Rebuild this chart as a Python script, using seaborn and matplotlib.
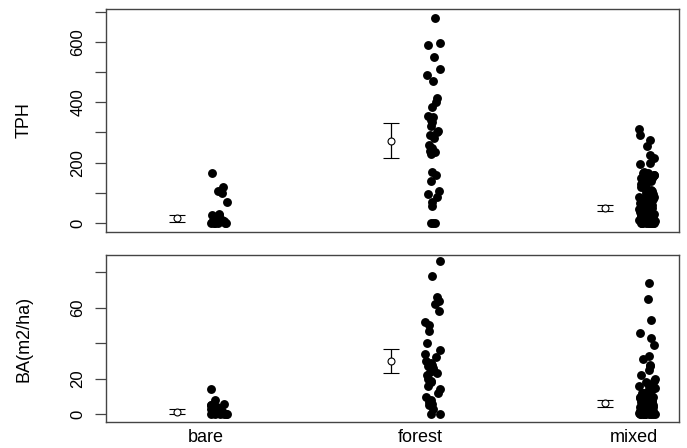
import numpy as np
import pandas as pd
import matplotlib
matplotlib.use("Agg")
import matplotlib.pyplot as plt
import seaborn as sns

# categories
sites = ["bare", "forest", "mixed"]

# trees per hectare, per plot
tph_bare = [165, 120, 105, 100, 70, 30, 28, 25, 20, 15, 10, 8, 5, 3, 0, 0, 0, 0, 0, 0]
tph_forest = [680, 595, 590, 550, 510, 490, 470, 415, 400, 385, 355, 350, 340, 335,
              320, 305, 300, 290, 280, 260, 250, 240, 235, 230, 170, 160, 140, 105,
              95, 85, 70, 55, 0, 0, 0]
tph_mixed = [310, 290, 275, 255, 225, 215, 200, 195, 170, 165, 165, 160, 160, 155,
             155, 150, 150, 145, 140, 140, 135, 130, 130, 125, 120, 120, 115, 110,
             110, 105, 100, 100, 95, 95, 90, 90, 85, 85, 80, 80, 75, 75, 70, 70, 65,
             65, 60, 60, 55, 55, 50, 50, 45, 45, 40, 40, 35, 35, 30, 30, 30, 25, 25,
             25, 20, 20, 20, 15, 15, 15, 10, 10, 10, 5, 5, 5, 5, 0, 0, 0, 0, 0, 0,
             0, 0, 0, 0]

# basal area (m2/ha), per plot
ba_bare = [14, 8, 6, 5, 5, 4, 4, 3, 3, 2, 2, 1, 1, 1, 0, 0, 0, 0, 0, 0]
ba_forest = [86, 78, 66, 64, 62, 58, 52, 50, 47, 40, 36, 34, 32, 30, 29, 28, 27, 26,
             25, 24, 23, 22, 20, 19, 18, 16, 14, 12, 10, 8, 7, 6, 5, 3, 0, 0]
ba_mixed = [74, 65, 53, 46, 43, 39, 33, 31, 28, 27, 25, 22, 20, 19, 18, 17, 16, 15,
            14, 14, 13, 12, 12, 11, 10, 10, 10, 9, 9, 9, 8, 8, 8, 7, 7, 7, 6, 6, 6,
            5, 5, 5, 5, 4, 4, 4, 4, 3, 3, 3, 3, 2, 2, 2, 2, 1, 1, 1, 1, 1, 0, 0, 0,
            0, 0, 0, 0, 0, 0, 0]

# group means and error bar half widths
tph_mean = [15, 273, 49]
tph_err = [11, 58, 11]
ba_mean = [1.5, 30, 6.2]
ba_err = [1.4, 7, 1.9]


def make_df(groups):
    rows = []
    for i, vals in enumerate(groups):
        for v in vals:
            rows.append({"site": sites[i], "pos": i + 1 + 0.06, "value": v})
    return pd.DataFrame(rows)


def draw_panel(ax, df, means, errs, ylabel, yticks, ylabels, ylim):
    sns.stripplot(data=df, x="pos", y="value", native_scale=True, orient="x",
                  jitter=0.038, color="black", size=6.4, linewidth=0, ax=ax)
    xpos = np.arange(1, len(sites) + 1) - 0.135
    ax.errorbar(xpos, means, yerr=errs, fmt="o", mfc="white", mec="black",
                color="black", ecolor="black", capsize=5.5, elinewidth=0.9,
                capthick=0.9, ms=5, mew=0.8)
    ax.set_xlim(0.533, 3.21)
    ax.set_ylim(*ylim)
    ax.set_yticks(yticks)
    ax.set_yticklabels(ylabels, rotation=90, va="center", fontsize=12,
                       color="black")
    ax.set_ylabel(ylabel, fontsize=13, color="black")
    ax.yaxis.set_label_coords(-0.128, 0.5)
    ax.tick_params(axis="y", left=True, length=8, width=0.9, color="#444444",
                   pad=7, direction="out")
    for s in ax.spines.values():
        s.set_visible(True)
        s.set_color("#444444")
        s.set_linewidth(1.0)


def main():
    sns.set_theme(style="white")
    plt.rcParams["font.family"] = ["Liberation Sans", "DejaVu Sans"]
    np.random.seed(7)

    fig = plt.figure(figsize=(6.87, 4.48), dpi=100)
    ax1 = fig.add_axes([0.1543, 0.4821, 0.8341, 0.4978])
    ax2 = fig.add_axes([0.1543, 0.0580, 0.8341, 0.3728])

    df_tph = make_df([tph_bare, tph_forest, tph_mixed])
    df_ba = make_df([ba_bare, ba_forest, ba_mixed])

    draw_panel(ax1, df_tph, tph_mean, tph_err, "TPH",
               list(range(0, 800, 100)),
               ["0", "", "200", "", "400", "", "600", ""], (-30, 709))
    ax1.set_xticks([])
    ax1.set_xlabel("")

    draw_panel(ax2, df_ba, ba_mean, ba_err, "BA(m2/ha)",
               [0, 20, 40, 60, 80], ["0", "20", "", "60", ""], (-4.3, 89.6))
    ax2.set_xticks([1, 2, 3])
    ax2.set_xticklabels(sites, fontsize=13, color="black")
    ax2.tick_params(axis="x", length=0, pad=5)
    ax2.set_xlabel("")

    fig.savefig("out.png", dpi=100)


if __name__ == "__main__":
    main()
